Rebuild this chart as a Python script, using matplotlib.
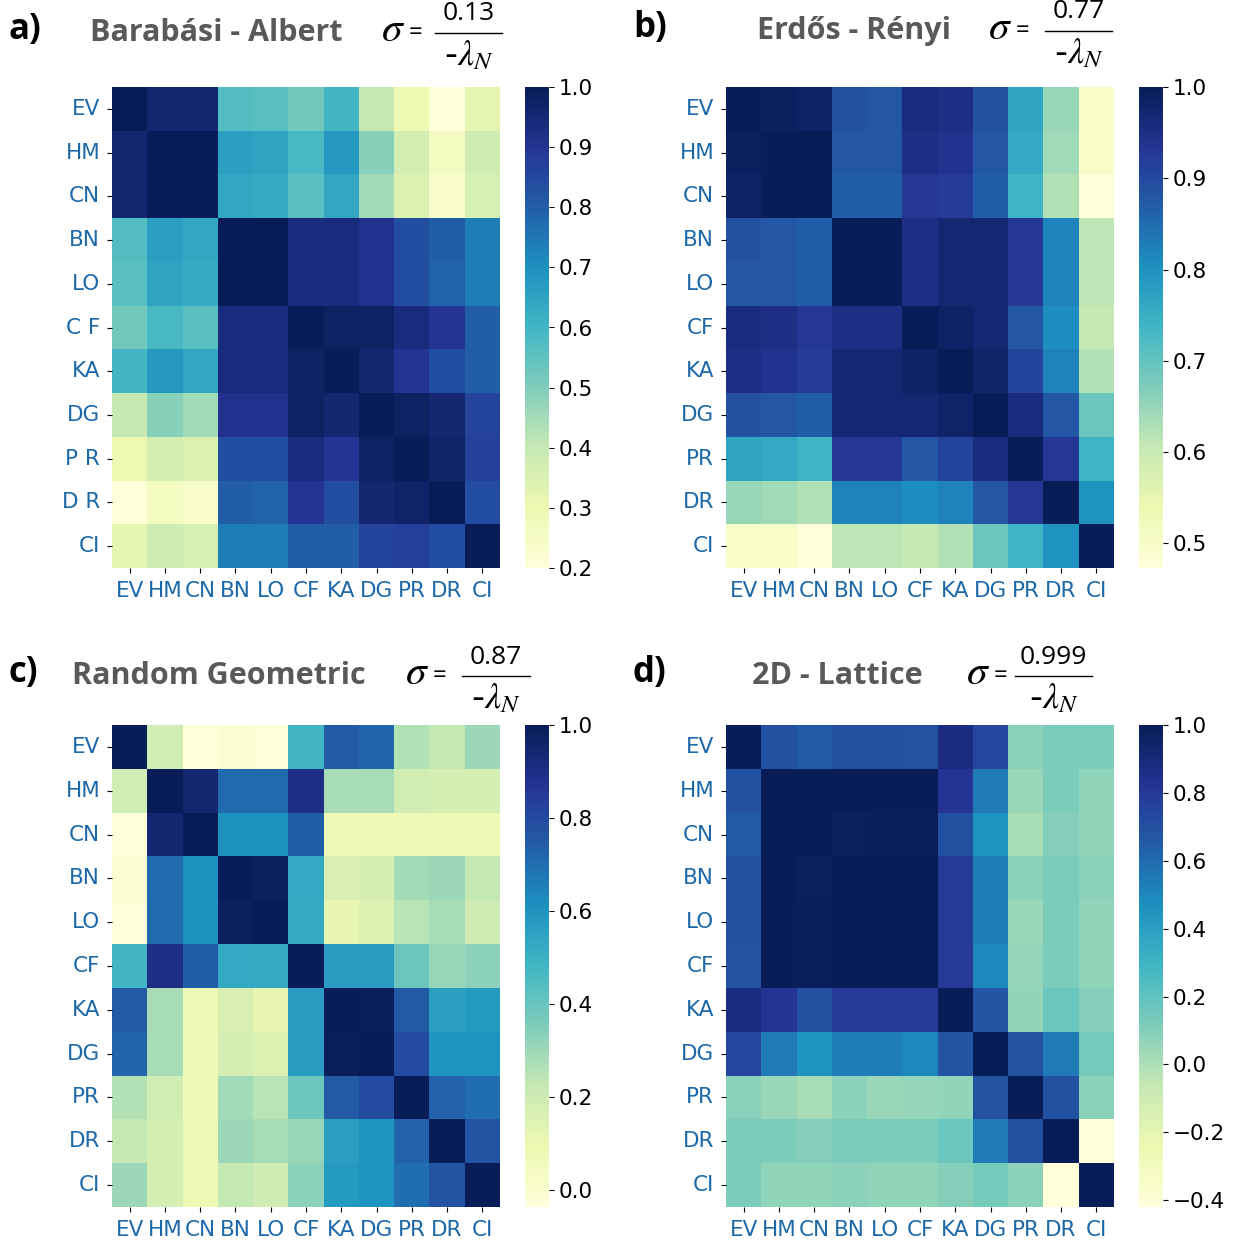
import matplotlib.pyplot as plt
import seaborn as sns
import numpy as np
from matplotlib.lines import Line2D

plt.rcParams['mathtext.fontset'] = 'stix'

# centralidades comparadas
cols = ['EV', 'HM', 'CN', 'BN', 'LO', 'CF', 'KA', 'DG', 'PR', 'DR', 'CI']
rows_ba = ['EV', 'HM', 'CN', 'BN', 'LO', 'C F', 'KA', 'DG', 'P R', 'D R', 'CI']

# correlacoes - Barabasi-Albert
ba = [
    [1.00, 0.96, 0.96, 0.57, 0.56, 0.52, 0.60, 0.40, 0.30, 0.20, 0.32],
    [0.96, 1.00, 1.00, 0.66, 0.65, 0.59, 0.68, 0.49, 0.37, 0.26, 0.38],
    [0.96, 1.00, 1.00, 0.64, 0.63, 0.56, 0.64, 0.45, 0.35, 0.24, 0.36],
    [0.57, 0.66, 0.64, 1.00, 1.00, 0.94, 0.94, 0.91, 0.84, 0.80, 0.74],
    [0.56, 0.65, 0.63, 1.00, 1.00, 0.94, 0.94, 0.91, 0.84, 0.79, 0.74],
    [0.52, 0.59, 0.56, 0.94, 0.94, 1.00, 0.98, 0.98, 0.94, 0.90, 0.80],
    [0.60, 0.68, 0.64, 0.94, 0.94, 0.98, 1.00, 0.96, 0.90, 0.84, 0.80],
    [0.40, 0.49, 0.45, 0.91, 0.91, 0.98, 0.96, 1.00, 0.98, 0.96, 0.86],
    [0.30, 0.37, 0.35, 0.84, 0.84, 0.94, 0.90, 0.98, 1.00, 0.97, 0.87],
    [0.20, 0.26, 0.24, 0.80, 0.79, 0.90, 0.84, 0.96, 0.97, 1.00, 0.84],
    [0.32, 0.38, 0.36, 0.74, 0.74, 0.80, 0.80, 0.86, 0.87, 0.84, 1.00],
]

# correlacoes - Erdos-Renyi
er = [
    [1.00, 0.99, 0.985, 0.89, 0.88, 0.96, 0.95, 0.89, 0.77, 0.65, 0.50],
    [0.99, 1.00, 1.00, 0.88, 0.88, 0.95, 0.94, 0.88, 0.76, 0.64, 0.50],
    [0.985, 1.00, 1.00, 0.87, 0.87, 0.93, 0.92, 0.87, 0.74, 0.625, 0.473],
    [0.89, 0.88, 0.87, 1.00, 1.00, 0.95, 0.97, 0.97, 0.93, 0.82, 0.615],
    [0.88, 0.88, 0.87, 1.00, 1.00, 0.95, 0.97, 0.97, 0.93, 0.82, 0.615],
    [0.96, 0.95, 0.93, 0.95, 0.95, 1.00, 0.985, 0.97, 0.88, 0.805, 0.605],
    [0.95, 0.94, 0.92, 0.97, 0.97, 0.985, 1.00, 0.98, 0.91, 0.82, 0.625],
    [0.89, 0.88, 0.87, 0.97, 0.97, 0.97, 0.98, 1.00, 0.96, 0.88, 0.69],
    [0.77, 0.76, 0.74, 0.93, 0.93, 0.88, 0.91, 0.96, 1.00, 0.93, 0.74],
    [0.65, 0.64, 0.625, 0.82, 0.82, 0.805, 0.82, 0.88, 0.93, 1.00, 0.80],
    [0.50, 0.50, 0.473, 0.615, 0.615, 0.605, 0.625, 0.69, 0.74, 0.80, 1.00],
]

# correlacoes - Random Geometric
rg = [
    [1.00, 0.19, -0.037, -0.01, -0.03, 0.48, 0.75, 0.72, 0.26, 0.23, 0.30],
    [0.19, 1.00, 0.95, 0.71, 0.71, 0.90, 0.28, 0.28, 0.19, 0.18, 0.18],
    [-0.037, 0.95, 1.00, 0.61, 0.61, 0.74, 0.08, 0.08, 0.08, 0.08, 0.08],
    [-0.01, 0.71, 0.61, 1.00, 0.98, 0.53, 0.16, 0.18, 0.29, 0.30, 0.23],
    [-0.03, 0.71, 0.61, 0.98, 1.00, 0.52, 0.11, 0.15, 0.25, 0.28, 0.20],
    [0.48, 0.90, 0.74, 0.53, 0.52, 1.00, 0.57, 0.57, 0.39, 0.31, 0.33],
    [0.75, 0.28, 0.08, 0.16, 0.11, 0.57, 1.00, 0.995, 0.75, 0.56, 0.58],
    [0.72, 0.28, 0.08, 0.18, 0.15, 0.57, 0.995, 1.00, 0.80, 0.60, 0.60],
    [0.26, 0.19, 0.08, 0.29, 0.25, 0.39, 0.75, 0.80, 1.00, 0.73, 0.70],
    [0.23, 0.18, 0.08, 0.30, 0.28, 0.31, 0.56, 0.60, 0.73, 1.00, 0.77],
    [0.30, 0.18, 0.08, 0.23, 0.20, 0.33, 0.58, 0.60, 0.70, 0.77, 1.00],
]

# correlacoes - 2D Lattice
la = [
    [1.00, 0.70, 0.66, 0.71, 0.71, 0.69, 0.88, 0.74, 0.09, 0.12, 0.12],
    [0.70, 1.00, 0.995, 0.995, 1.00, 1.00, 0.82, 0.55, 0.05, 0.12, 0.07],
    [0.66, 0.995, 1.00, 0.98, 0.985, 0.99, 0.71, 0.46, 0.01, 0.10, 0.07],
    [0.71, 0.995, 0.98, 1.00, 1.00, 0.995, 0.80, 0.53, 0.08, 0.12, 0.08],
    [0.71, 1.00, 0.985, 1.00, 1.00, 1.00, 0.80, 0.53, 0.05, 0.12, 0.07],
    [0.69, 1.00, 0.99, 0.995, 1.00, 1.00, 0.80, 0.50, 0.06, 0.12, 0.07],
    [0.88, 0.82, 0.71, 0.80, 0.80, 0.80, 1.00, 0.68, 0.07, 0.17, 0.10],
    [0.74, 0.55, 0.46, 0.53, 0.53, 0.50, 0.68, 1.00, 0.69, 0.55, 0.14],
    [0.09, 0.05, 0.01, 0.08, 0.05, 0.06, 0.07, 0.69, 1.00, 0.70, 0.08],
    [0.12, 0.12, 0.10, 0.12, 0.12, 0.12, 0.17, 0.55, 0.70, 1.00, -0.42],
    [0.12, 0.07, 0.07, 0.08, 0.07, 0.07, 0.10, 0.14, 0.08, -0.42, 1.00],
]

letras = ['a)', 'b)', 'c)', 'd)']
titulos = ['Barabási - Albert', 'Erdős - Rényi', 'Random Geometric', '2D - Lattice']
sigmas = ['0.13', '0.77', '0.87', '0.999']

W, H = 1233, 1242
tam_font = 15.5
cor_tick = '#1c68a8'
cor_titulo = '#595959'


def fx(x):
    return x / W


def fy(y):
    return 1 - y / H


fig = plt.figure(figsize=(W / 100, H / 100), dpi=100)

# posicoes em pixels: (x do mapa, x da barra, topo, base)
paineis = [
    (112, 525, 87, 568),
    (726, 1139, 87, 568),
    (112, 525, 725, 1207),
    (726, 1139, 725, 1207),
]
dados = [ba, er, rg, la]
rotulos_y = [rows_ba, cols, cols, cols]

for (x0, xc, y0, y1), mat, ylab in zip(paineis, dados, rotulos_y):
    ax = fig.add_axes([fx(x0), fy(y1), 388 / W, (y1 - y0) / H])
    cax = fig.add_axes([fx(xc), fy(y1), 24 / W, (y1 - y0) / H])
    sns.heatmap(np.array(mat), ax=ax, cbar_ax=cax, cmap='YlGnBu',
                xticklabels=cols, yticklabels=ylab)
    ax.tick_params(axis='both', labelsize=tam_font, labelcolor=cor_tick)
    ax.tick_params(axis='y', rotation=0, pad=5)
    ax.tick_params(axis='x', rotation=0, pad=6)
    cax.tick_params(labelsize=tam_font)

# titulos com a razao sigma
# (x letra, x titulo, x sigma, x0 barra, x1 barra, y centro)
cab = [
    (9, 90, 381, 435, 502, 33),
    (633, 757, 988, 1045, 1112, 31),
    (9, 72, 405, 462, 530, 676),
    (633, 752, 966, 1015, 1092, 676),
]
for (xl, xt, xs, b0, b1, yc), letra, tit, sg in zip(cab, letras, titulos, sigmas):
    fig.text(fx(xl), fy(yc - 3), letra, fontsize=25, fontweight='bold',
             family='Open Sans', ha='left', va='center')
    fig.text(fx(xt), fy(yc), tit, fontsize=22, fontweight='bold',
             family='Open Sans', color=cor_titulo, ha='left', va='center')
    fig.text(fx(xs), fy(yc - 4), r'$\sigma$', fontsize=30, ha='left', va='center')
    fig.text(fx(xs + 34), fy(yc), '=', fontsize=17, family='Open Sans',
             ha='center', va='center')
    xm = (b0 + b1) / 2
    fig.text(fx(xm), fy(yc - 19), sg, fontsize=19, family='Open Sans',
             ha='center', va='center')
    fig.add_artist(Line2D([fx(b0), fx(b1)], [fy(yc), fy(yc)],
                          transform=fig.transFigure, color='k', lw=1))
    fig.text(fx(xm), fy(yc + 22), r'-$\lambda_N$', fontsize=26,
             ha='center', va='center')

fig.savefig('out.png', dpi=100)
